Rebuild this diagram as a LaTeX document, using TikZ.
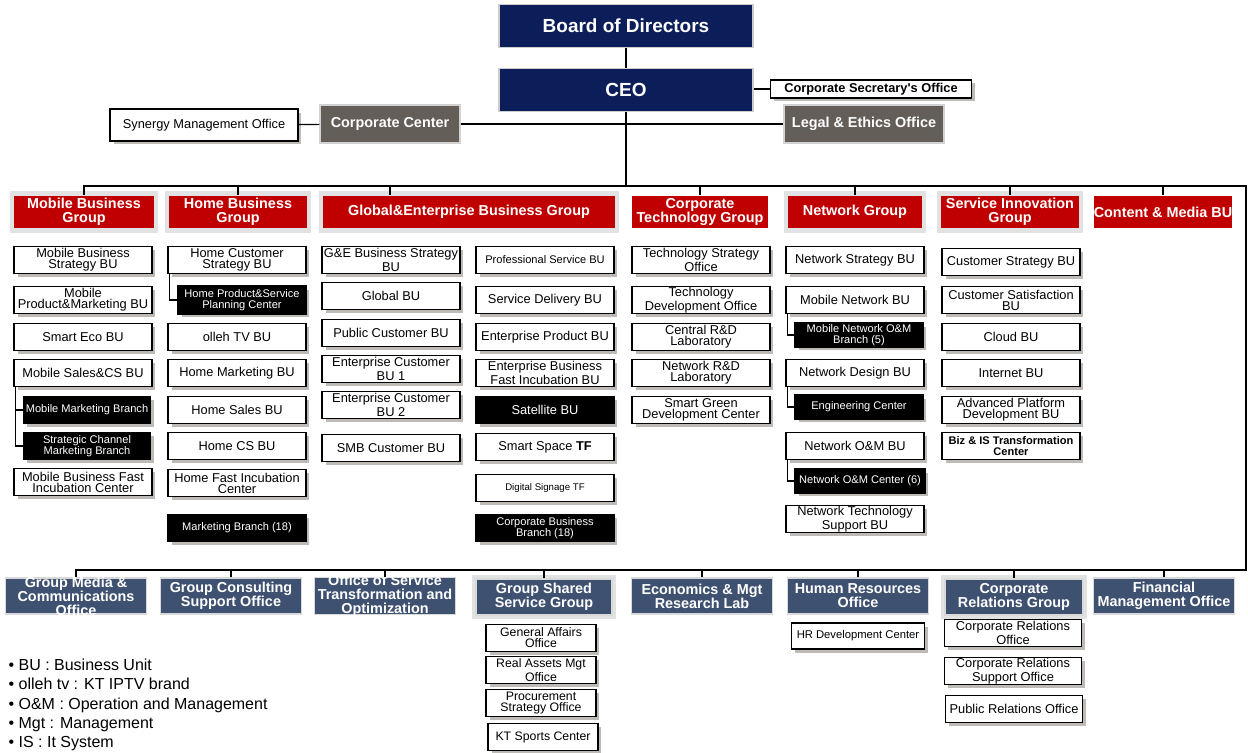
\documentclass[tikz,border=0pt]{standalone}
\usepackage{fontspec}
\setmainfont{Liberation Sans}
\usetikzlibrary{shadows}
\definecolor{boardnavy}{RGB}{12,30,90}
\definecolor{hqgray}{RGB}{99,94,88}
\definecolor{groupred}{RGB}{192,0,0}
\definecolor{staffblue}{RGB}{63,81,112}
\definecolor{shadowgray}{RGB}{190,187,182}
\definecolor{framegray}{RGB}{226,226,226}
\tikzset{
  unitbox/.style={
    draw,
    fill=white,
    line width=0.7pt,
    align=center,
    inner xsep=1pt,
    inner ysep=0pt,
    minimum width=2.76cm,
    minimum height=0.54cm,
    font=\fontsize{7.3}{6.3}\selectfont,
    general shadow={fill=shadowgray, shadow xshift=0.07cm, shadow yshift=-0.07cm}
  },
  branchbox/.style={
    unitbox,
    fill=black,
    text=white,
    font=\fontsize{6.3}{6.6}\selectfont
  },
  groupbox/.style={
    fill=groupred,
    text=white,
    align=center,
    inner xsep=0pt,
    inner ysep=0pt,
    minimum height=0.66cm,
    font=\bfseries\fontsize{8.2}{8}\selectfont
  },
  grayframe/.style={
    preaction={draw=framegray, line width=0.18cm}
  },
  staffbox/.style={
    fill=staffblue,
    draw=gray!30,
    text=white,
    align=center,
    inner xsep=0pt,
    inner ysep=0pt,
    minimum width=2.82cm,
    minimum height=0.72cm,
    font=\bfseries\fontsize{8.2}{8}\selectfont
  },
  hqbox/.style={
    fill=hqgray,
    draw=gray!35,
    text=white,
    minimum width=2.8cm,
    minimum height=0.76cm,
    font=\bfseries\fontsize{8.2}{9}\selectfont
  },
  boardbox/.style={
    fill=boardnavy,
    draw=gray!40,
    text=white,
    minimum width=5.08cm,
    minimum height=0.86cm,
    font=\bfseries\fontsize{10.8}{12}\selectfont
  }
}
\begin{document}
\begin{tikzpicture}[x=0.02cm, y=-0.02cm, line width=0.7pt]
\useasboundingbox (0,0) rectangle (1248,753);
% top management
\node[boardbox] (board) at (626,26) {Board of Directors};
\node[boardbox] (ceo) at (626,90) {CEO};
\node[unitbox, minimum width=4.02cm, minimum height=0.36cm, font=\bfseries\fontsize{7.3}{8}\selectfont] (secretary) at (871,89) {Corporate Secretary\textquotesingle s Office};
\node[hqbox] (corpcenter) at (390,124) {Corporate Center};
\node[hqbox, minimum width=3.2cm] (legal) at (864,124) {Legal \& Ethics Office};
\node[unitbox, minimum width=3.76cm, minimum height=0.64cm] (synergy) at (204,125) {Synergy Management Office};
\coordinate (busR) at (1246,186);
\coordinate (lowR) at (1246,570);
% groups
\node[groupbox, grayframe, minimum width=2.8cm] (mobilegrp) at (84,212) {Mobile Business\\Group};
\node[groupbox, grayframe, minimum width=2.76cm] (homegrp) at (238,212) {Home Business\\Group};
\node[groupbox, grayframe, minimum width=5.84cm] (gegrp) at (469,212) {Global\&Enterprise Business Group};
\node[groupbox, minimum width=2.74cm] (techgrp) at (700,212) {Corporate\\Technology Group};
\node[groupbox, grayframe, minimum width=2.68cm] (netgrp) at (855,212) {Network Group};
\node[groupbox, grayframe, minimum width=2.76cm] (sigrp) at (1010,212) {Service Innovation\\Group};
\node[groupbox, minimum width=2.78cm] (cmbu) at (1163,212) {Content \& Media BU};
% mobile business group
\node[unitbox] (mbstrat) at (83,260) {Mobile Business\\Strategy BU};
\node[unitbox] (mprod) at (83,300) {Mobile\\Product\&Marketing BU};
\node[unitbox] (smarteco) at (83,337) {Smart Eco BU};
\node[unitbox] (msales) at (83,373) {Mobile Sales\&CS BU};
\node[branchbox, minimum width=2.54cm] (mmkt) at (87,410) {Mobile Marketing Branch};
\node[branchbox, minimum width=2.54cm] (schannel) at (87,446) {Strategic Channel\\Marketing Branch};
\node[unitbox] (mfast) at (83,482) {Mobile Business Fast\\Incubation Center};
% home business group
\node[unitbox] (hcstrat) at (237,260) {Home Customer\\Strategy BU};
\node[branchbox, minimum width=2.56cm, minimum height=0.56cm] (hps) at (242,300) {Home Product\&Service\\Planning Center};
\node[unitbox] (olleh) at (237,337) {olleh TV BU};
\node[unitbox] (hmkt) at (237,373) {Home Marketing BU};
\node[unitbox] (hsales) at (237,410) {Home Sales BU};
\node[unitbox] (hcs) at (237,446) {Home CS BU};
\node[unitbox] (hfast) at (237,483) {Home Fast Incubation\\Center};
\node[branchbox] (mbranch) at (237,528) {Marketing Branch (18)};
% global & enterprise business group
\node[unitbox] (gestrat) at (391,260) {G\&E Business Strategy\\BU};
\node[unitbox] (global) at (391,296) {Global BU};
\node[unitbox] (public) at (391,333) {Public Customer BU};
\node[unitbox] (ent1) at (391,369) {Enterprise Customer\\BU 1};
\node[unitbox] (ent2) at (391,405) {Enterprise Customer\\BU 2};
\node[unitbox] (smb) at (391,448) {SMB Customer BU};
\node[unitbox, font=\fontsize{6.3}{6.6}\selectfont] (profsvc) at (545,260) {Professional Service BU};
\node[unitbox] (svcdel) at (545,300) {Service Delivery BU};
\node[unitbox] (entprod) at (545,337) {Enterprise Product BU};
\node[unitbox] (entfast) at (545,373) {Enterprise Business\\Fast Incubation BU};
\node[branchbox, font=\fontsize{7.3}{7}\selectfont] (satellite) at (545,410) {Satellite BU};
\node[unitbox] (smartspace) at (545,447) {Smart Space \textbf{TF}};
\node[unitbox, font=\fontsize{5.5}{6}\selectfont] (signage) at (545,488) {Digital Signage TF};
\node[branchbox] (corpbranch) at (545,528) {Corporate Business\\Branch (18)};
% corporate technology group
\node[unitbox] (techstrat) at (701,260) {Technology Strategy\\Office};
\node[unitbox] (techdev) at (701,300) {Technology\\Development Office};
\node[unitbox] (central) at (701,337) {Central R\&D\\Laboratory};
\node[unitbox] (netrnd) at (701,373) {Network R\&D\\Laboratory};
\node[unitbox] (green) at (701,410) {Smart Green\\Development Center};
% network group
\node[unitbox] (netstrat) at (855,260) {Network Strategy BU};
\node[unitbox] (mobnet) at (855,300) {Mobile Network BU};
\node[branchbox, minimum width=2.56cm, minimum height=0.48cm] (mobnetom) at (859,335) {Mobile Network O\&M\\Branch (5)};
\node[unitbox] (netdesign) at (855,373) {Network Design BU};
\node[branchbox, minimum width=2.56cm, minimum height=0.48cm] (engcenter) at (859,407) {Engineering Center};
\node[unitbox] (netom) at (855,446) {Network O\&M BU};
\node[branchbox, minimum width=2.6cm, minimum height=0.48cm] (netomc) at (860,481) {Network O\&M Center (6)};
\node[unitbox] (nettech) at (855,519) {Network Technology\\Support BU};
% service innovation group
\node[unitbox] (custstrat) at (1011,262) {Customer Strategy BU};
\node[unitbox] (custsat) at (1011,300) {Customer Satisfaction\\BU};
\node[unitbox] (cloud) at (1011,337) {Cloud BU};
\node[unitbox] (internet) at (1011,373) {Internet BU};
\node[unitbox] (advplat) at (1011,410) {Advanced Platform\\Development BU};
\node[unitbox, font=\bfseries\fontsize{6.3}{6.4}\selectfont] (bizis) at (1011,446) {Biz \& IS Transformation\\Center};
% staff offices
\node[staffbox, inner ysep=-1.5pt] (mediaoff) at (76,596) {Group Media \&\\Communications\\Office};
\node[staffbox] (consult) at (231,596) {Group Consulting\\Support Office};
\node[staffbox, inner ysep=-1.5pt] (transform) at (385,596) {Office of Service\\Transformation and\\Optimization};
\node[staffbox, grayframe, minimum width=2.72cm] (shared) at (544,597) {Group Shared\\Service Group};
\node[staffbox] (econ) at (702,596) {Economics \& Mgt\\Research Lab};
\node[staffbox] (hr) at (858,596) {Human Resources\\Office};
\node[staffbox, grayframe, minimum width=2.76cm] (corprel) at (1014,597) {Corporate\\Relations Group};
\node[staffbox] (finance) at (1164,596) {Financial\\Management Office};
\node[unitbox, minimum width=2.2cm, font=\fontsize{7}{6.3}\selectfont] (general) at (541,638) {General Affairs\\Office};
\node[unitbox, minimum width=2.2cm, font=\fontsize{7}{6.3}\selectfont] (realasset) at (541,670) {Real Assets Mgt\\Office};
\node[unitbox, minimum width=2.2cm, font=\fontsize{7}{6.3}\selectfont] (procure) at (541,703) {Procurement\\Strategy Office};
\node[unitbox, minimum width=2.2cm, font=\fontsize{7}{6.3}\selectfont] (sports) at (543,737) {KT Sports Center};
\node[unitbox, minimum width=2.66cm, minimum height=0.52cm, font=\fontsize{6.4}{6.6}\selectfont] (hrdev) at (858,636) {HR Development Center};
\node[unitbox, minimum width=2.74cm] (croff) at (1013,633) {Corporate Relations\\Office};
\node[unitbox, minimum width=2.74cm] (crsupport) at (1013,671) {Corporate Relations\\Support Office};
\node[unitbox, minimum width=2.74cm] (proff) at (1014,709) {Public Relations Office};
% notes
\node[anchor=west, align=left, inner sep=0pt, font=\fontsize{9.1}{10.9}\selectfont] (notes) at (8,705) {• BU : Business Unit\\• olleh tv : KT IPTV brand\\• O\&M : Operation and Management\\• Mgt : Management\\• IS : It System};
% connectors
\draw (board) -- (ceo);
\draw (ceo.south) -- (ceo.south |- busR);
\draw (secretary.west) -- (secretary.west -| ceo.east);
\draw (synergy) -- (corpcenter);
\draw (corpcenter) -- (legal);
\draw (mobilegrp.north) |- (busR) -- (lowR) -| (mediaoff.north);
\foreach \grp in {homegrp, techgrp, netgrp, sigrp, cmbu}
  \draw (\grp.north) -- (\grp.north |- busR);
\draw ([xshift=-1.58cm]gegrp.north) -- ([xshift=-1.58cm]gegrp.north |- busR);
\foreach \stf in {consult, transform, shared, econ, hr, corprel, finance}
  \draw (\stf.north) -- (\stf.north |- lowR);
\draw ([xshift=0.04cm]msales.south west) |- (mmkt.west);
\draw ([xshift=0.04cm]msales.south west) |- (schannel.west);
\draw ([xshift=0.04cm]hcstrat.south west) |- (hps.west);
\draw ([xshift=0.04cm]mobnet.south west) |- (mobnetom.west);
\draw ([xshift=0.04cm]netdesign.south west) |- (engcenter.west);
\draw ([xshift=0.04cm]netom.south west) |- (netomc.west);
\end{tikzpicture}
\end{document}
